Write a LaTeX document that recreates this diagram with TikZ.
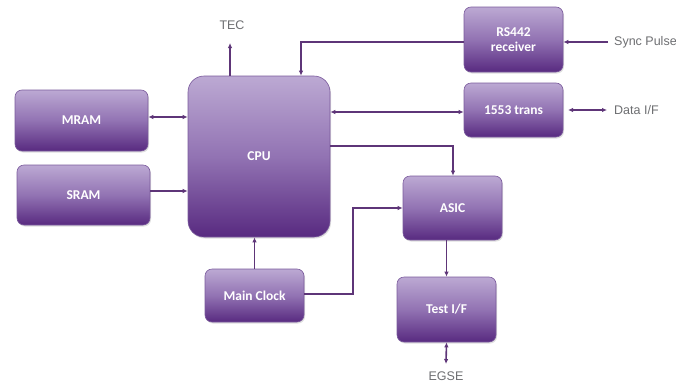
\documentclass[tikz,border=0pt]{standalone}
\usepackage{fontspec}
\setmainfont{Carlito}
\newfontfamily\labelfont{Liberation Sans}
\usetikzlibrary{arrows.meta,shadows}
\definecolor{boxtop}{HTML}{BCA9D3}
\definecolor{boxmid}{HTML}{9273B3}
\definecolor{boxbot}{HTML}{582A80}
\definecolor{boxedge}{HTML}{7A5A9C}
\definecolor{wire}{HTML}{5E3578}
\definecolor{lbl}{HTML}{6D6E71}
\tikzset{
  blk/.style={rounded corners=7pt, top color=boxtop, bottom color=boxbot, middle color=boxmid,
    draw=boxedge, line width=0.6pt, text=white, font=\fontsize{13.5}{15.5}\selectfont\bfseries,
    align=center, inner sep=0pt, drop shadow={shadow xshift=1pt, shadow yshift=-1.5pt, opacity=0.25}},
  wirestyle/.style={draw=wire, line width=1.6pt},
  arr/.style={wirestyle, -{Latex[length=5pt,width=4.5pt]}},
  darr/.style={wirestyle, {Latex[length=5pt,width=4.5pt]}-{Latex[length=5pt,width=4.5pt]}},
  ext/.style={text=lbl, font=\labelfont\fontsize{12.5}{14}\selectfont, inner sep=0pt},
}
\begin{document}
\begin{tikzpicture}[x=1pt,y=-1pt]
\useasboundingbox (0,0) rectangle (676,383);
\node[blk, minimum width=133pt, minimum height=61pt] (mram) at (81.5,120.5) {MRAM};
\node[blk, minimum width=133pt, minimum height=60pt] (sram) at (83.5,195) {SRAM};
\node[blk, rounded corners=16pt, minimum width=142pt, minimum height=161pt] (cpu) at (259,156.5) {CPU};
\node[blk, minimum width=99pt, minimum height=65pt] (rs) at (513.5,39.5) {RS442\\receiver};
\node[blk, minimum width=99pt, minimum height=54pt] (trans) at (513.5,110) {1553 trans};
\node[blk, minimum width=99pt, minimum height=64pt] (asic) at (452.5,208) {ASIC};
\node[blk, minimum width=99pt, minimum height=65pt] (test) at (446.5,309.5) {Test I/F};
\node[blk, minimum width=99pt, minimum height=53pt] (clk) at (254.5,295.5) {Main Clock};

\node[ext] (tec) at (232,25) {TEC};
\node[ext, anchor=west] (sync) at (614,42) {Sync Pulse};
\node[ext, anchor=west] (data) at (614,110) {Data I/F};
\node[ext] (egse) at (446,376) {EGSE};

\coordinate (tecend) at (230,43);
\coordinate (syncend) at (608,42);
\coordinate (datal) at (568,110);
\coordinate (datar) at (607,110);
\coordinate (egseend) at (446,364);

\draw[arr] (cpu.north -| tecend) -- (tecend);
\draw[arr] (rs.west |- 0,42) -- (301,42) -- (cpu.north -| 301,0);
\draw[arr] (syncend) -- (rs.east |- syncend);
\draw[darr] (cpu.east |- 0,112) -- (trans.west |- 0,112);
\draw[darr] (datal) -- (datar);
\draw[arr] (cpu.east |- 0,146) -- (453,146) -- (asic.north -| 453,0);
\draw[arr] (clk.north) -- (cpu.south -| clk.north);
\draw[arr] (clk.east |- 0,294) -- (353,294) -- (353,208) -- (asic.west);
\draw[arr] (asic.south -| test.north) -- (test.north);
\draw[darr] (test.south) -- (egseend);
\draw[darr] (mram.east |- 0,117) -- (cpu.west |- 0,117);
\draw[arr] (sram.east |- 0,191) -- (cpu.west |- 0,191);
\end{tikzpicture}
\end{document}
